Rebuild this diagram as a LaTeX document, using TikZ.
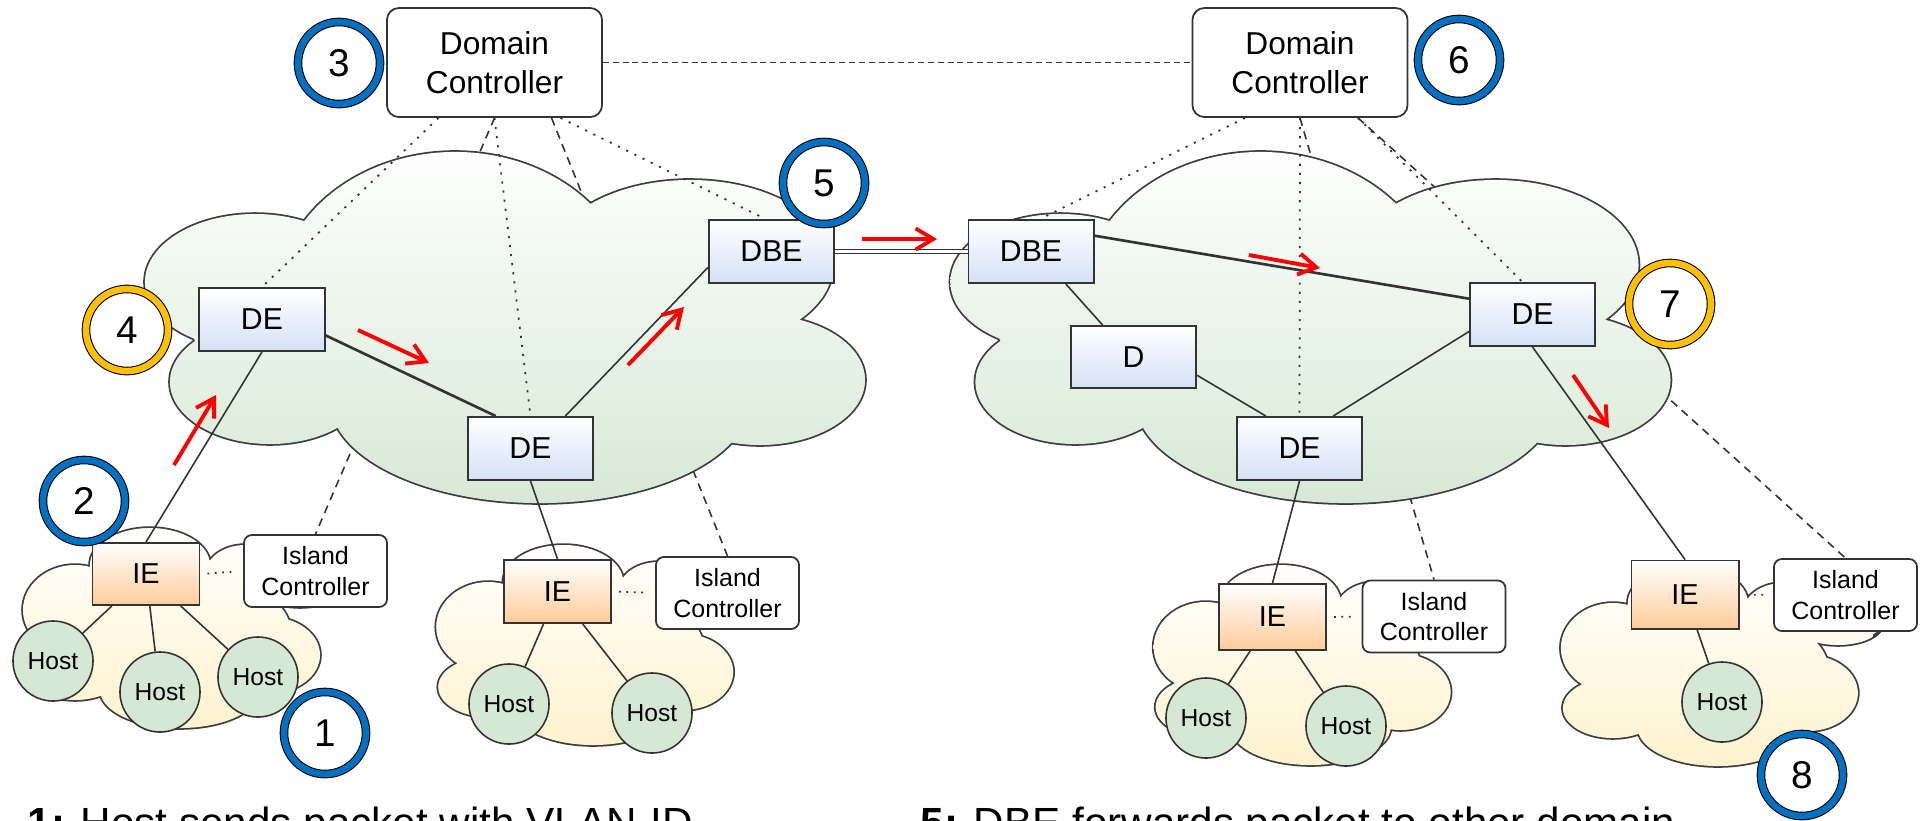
\documentclass[tikz,border=0pt]{standalone}
\usepackage{fontspec}
\setmainfont{Liberation Sans}
\usetikzlibrary{arrows.meta}

\definecolor{ringblue}{HTML}{0070C0}
\definecolor{ringgold}{HTML}{FFC000}
\definecolor{edge}{HTML}{333333}
\definecolor{cloudgreen}{HTML}{D5E8D4}
\definecolor{islandyellow}{HTML}{FFF2CC}
\definecolor{boxblue}{HTML}{D4E1F5}
\definecolor{boxorange}{HTML}{FFCC99}
\definecolor{hostgreen}{HTML}{D5E8D4}

\pgfdeclarelayer{wires}
\pgfdeclarelayer{clouds}
\pgfsetlayers{wires,clouds,main}

% lobes of a domain cloud (union of ellipses), pixel coordinates
\newcommand{\corecloud}{%
  (255,282) ellipse [x radius=1.10cm, y radius=0.68cm]
  (455,300) ellipse [x radius=1.78cm, y radius=1.48cm]
  (690,265) ellipse [x radius=1.43cm, y radius=0.85cm]
  (760,380) ellipse [x radius=1.05cm, y radius=0.65cm]
  (540,400) ellipse [x radius=2.10cm, y radius=1.03cm]
  (270,382) ellipse [x radius=1.00cm, y radius=0.62cm]
  (480,320) ellipse [x radius=2.90cm, y radius=1.10cm]}

% lobes of an island cloud
\newcommand{\islandcloud}{%
  (75,610) ellipse [x radius=0.52cm, y radius=0.45cm]
  (150,565) ellipse [x radius=0.60cm, y radius=0.37cm]
  (245,575) ellipse [x radius=0.40cm, y radius=0.30cm]
  (300,585) ellipse [x radius=0.45cm, y radius=0.22cm]
  (270,655) ellipse [x radius=0.50cm, y radius=0.38cm]
  (180,690) ellipse [x radius=0.80cm, y radius=0.38cm]
  (75,670) ellipse [x radius=0.50cm, y radius=0.30cm]
  (170,630) ellipse [x radius=1.20cm, y radius=0.60cm]}

\tikzset{
  dcbox/.style={draw=edge, line width=0.5pt, rounded corners=0.12cm, fill=white,
    minimum width=2.15cm, minimum height=1.09cm, align=center, inner sep=0pt,
    font=\fontsize{9}{11}\selectfont},
  swbox/.style={draw=edge, line width=0.55pt, top color=white, bottom color=boxblue,
    minimum width=1.25cm, minimum height=0.63cm, inner sep=0pt,
    font=\fontsize{8.6}{10}\selectfont},
  iebox/.style={draw=edge, line width=0.55pt, top color=white, bottom color=boxorange,
    minimum width=1.07cm, inner sep=0pt, font=\fontsize{8.2}{10}\selectfont},
  icbox/.style={draw=edge, line width=0.5pt, rounded corners=0.08cm, fill=white,
    minimum width=1.43cm, minimum height=0.72cm, align=center, inner sep=0pt,
    font=\fontsize{7.1}{8.6}\selectfont},
  host/.style={circle, draw=edge, line width=0.45pt, fill=hostgreen,
    minimum size=0.8cm, inner sep=0pt, font=\fontsize{7}{8}\selectfont},
  badge/.style={circle, draw=black, line width=0.3pt, double distance=0.065cm,
    fill=white, minimum size=0.82cm, inner sep=0pt, font=\fontsize{11}{12}\selectfont},
  bluebadge/.style={badge, double=ringblue},
  goldbadge/.style={badge, double=ringgold},
  link/.style={draw=edge, line width=0.45pt},
  heavylink/.style={draw=edge, line width=0.75pt},
  trunk/.style={draw=edge, line width=0.4pt, double=white, double distance=0.03cm},
  ctrldot/.style={draw=edge, line width=0.5pt, dash pattern=on 0.6pt off 2.0pt},
  ctrldash/.style={draw=edge, line width=0.45pt, dash pattern=on 2.3pt off 1.7pt},
  peerdash/.style={draw=edge, line width=0.5pt, dash pattern=on 1.7pt off 1.1pt},
  icdot/.style={draw=edge, line width=0.5pt, dash pattern=on 0.5pt off 1.6pt,
    shorten <=0.07cm, shorten >=0.07cm},
  redarrow/.style={draw=red, line width=1.1pt, -{Straight Barb[length=5pt,width=6pt]}},
  cloudrim/.style={draw=edge!95, line width=0.035cm},
  caption/.style={anchor=base west, inner sep=0pt, font=\fontsize{12}{14}\selectfont}
}

\begin{document}
\begin{tikzpicture}[x=0.01cm, y=-0.01cm]
\useasboundingbox (0,0) rectangle (1920,820);

% ---------- controllers ----------
\node[dcbox] (dc1) at (494.5,62.5) {Domain\\Controller};
\node[dcbox] (dc2) at (1300,62.5) {Domain\\Controller};

% ---------- domain switches ----------
\node[swbox] (de1)  at (262,319.5)   {DE};
\node[swbox] (dbe1) at (771.5,251.5) {DBE};
\node[swbox] (de2)  at (530.5,448.5) {DE};
\node[swbox] (dbe2) at (1031,251.5)  {DBE};
\node[swbox, minimum height=0.62cm] (d1) at (1133.5,357) {D};
\node[swbox] (de3)  at (1532.5,314.5) {DE};
\node[swbox] (de4)  at (1299.5,448.5) {DE};

% ---------- island edges and controllers ----------
\node[iebox, minimum height=0.62cm] (ie1) at (146,574)    {IE};
\node[iebox, minimum height=0.63cm] (ie2) at (557.5,591.5) {IE};
\node[iebox, minimum height=0.66cm] (ie3) at (1272.5,617)  {IE};
\node[iebox, minimum height=0.68cm] (ie4) at (1685,594.5)  {IE};

\node[icbox] (ic1) at (315.5,571)  {Island\\Controller};
\node[icbox] (ic2) at (727.5,593)  {Island\\Controller};
\node[icbox] (ic3) at (1434,616.5) {Island\\Controller};
\node[icbox] (ic4) at (1845.5,595) {Island\\Controller};

% ---------- hosts ----------
\node[host] (h1a) at (53,661)   {Host};
\node[host] (h1b) at (160,692)  {Host};
\node[host] (h1c) at (258,677)  {Host};
\node[host] (h2a) at (509,704)  {Host};
\node[host] (h2b) at (652,713)  {Host};
\node[host] (h3a) at (1206,718) {Host};
\node[host] (h3b) at (1346,726) {Host};
\node[host] (h4)  at (1722,702) {Host};

% ---------- controller-to-island control channels (behind the clouds) ----------
\begin{pgfonlayer}{wires}
  \draw[ctrldash] (dc1.south) -- (ic1.north);
  \draw[ctrldash] ([xshift=0.57cm]dc1.south) -- (ic2.north);
  \draw[ctrldash] (dc2.south) -- (ic3.north);
  \draw[ctrldash] ([xshift=0.58cm]dc2.south) -- (ic4.north);
\end{pgfonlayer}

% ---------- clouds ----------
\begin{pgfonlayer}{clouds}
  \foreach \dx in {0,8.05}{
    \begin{scope}[xshift=\dx cm]
      \draw[cloudrim] \corecloud;
      \begin{scope}
        \clip \corecloud;
        \shade[top color=white, bottom color=cloudgreen] (130,140) rectangle (880,515);
      \end{scope}
    \end{scope}
  }
  \foreach \dx/\dy in {0/0, 4.13/-0.17, 11.30/-0.37, 15.37/-0.38}{
    \begin{scope}[xshift=\dx cm, yshift=\dy cm]
      \draw[cloudrim] \islandcloud;
      \begin{scope}
        \clip \islandcloud;
        \shade[top color=white, bottom color=islandyellow] (15,520) rectangle (335,735);
      \end{scope}
    \end{scope}
  }
\end{pgfonlayer}

% ---------- controller-to-switch control channels ----------
\draw[ctrldot] ([xshift=-0.56cm]dc1.south) -- (de1.north);
\draw[ctrldot] (dc1.south) -- (de2.north);
\draw[ctrldot] ([xshift=0.66cm]dc1.south) -- ([xshift=-0.06cm]dbe1.north);
\draw[ctrldot] ([xshift=-0.55cm]dc2.south) -- ([xshift=0.09cm]dbe2.north);
\draw[ctrldot] (dc2.south) -- (de4.north);
\draw[ctrldot] ([xshift=0.58cm]dc2.south) -- ([xshift=-0.1cm]de3.north);
\draw[peerdash] (dc1.east) -- (dc2.west);

% ---------- data links ----------
\draw[link] (ie1.north) -- (de1.south);
\draw[heavylink] (de1.-14) -- (de2.137);
\draw[link] (de2.43) -- (dbe1.194);
\draw[link] (de2.south) -- (ie2.north);
\draw[trunk] (dbe1) -- (dbe2);
\draw[heavylink] (dbe2.14) -- (de3.166);
\draw[link] (dbe2.-43) -- (d1.134);
\draw[link] (d1.-16) -- (de4.136);
\draw[link] (de4.44) -- (de3.195);
\draw[link] (de4.south) -- (ie3.north);
\draw[link] (de3.south) -- (ie4.north);

\draw[link] (ie1) -- (h1a);
\draw[link] (ie1) -- (h1b);
\draw[link] (ie1) -- (h1c);
\draw[link] (ie2) -- (h2a);
\draw[link] (ie2) -- (h2b);
\draw[link] (ie3) -- (h3a);
\draw[link] (ie3) -- (h3b);
\draw[link] (ie4) -- (h4);

\draw[icdot] (ie1.east) -- (ic1.west);
\draw[icdot] (ie2.east) -- (ic2.west);
\draw[icdot] (ie3.east) -- (ic3.west);
\draw[icdot] (ie4.east) -- (ic4.west);

% ---------- packet path ----------
\coordinate (p1a) at (174,465);  \coordinate (p1b) at (216,395);
\coordinate (p2a) at (358,330);  \coordinate (p2b) at (429,363);
\coordinate (p3a) at (628,365);  \coordinate (p3b) at (684,307);
\coordinate (p4a) at (862,239);  \coordinate (p4b) at (937,239);
\coordinate (p5a) at (1249,255); \coordinate (p5b) at (1320,268);
\coordinate (p6a) at (1573,375); \coordinate (p6b) at (1609,428);
\draw[redarrow] (p1a) -- (p1b);
\draw[redarrow] (p2a) -- (p2b);
\draw[redarrow] (p3a) -- (p3b);
\draw[redarrow] (p4a) -- (p4b);
\draw[redarrow] (p5a) -- (p5b);
\draw[redarrow] (p6a) -- (p6b);

% ---------- step markers ----------
\node[bluebadge] (n1) at (325,733)  {1};
\node[bluebadge] (n2) at (84,501)   {2};
\node[bluebadge] (n3) at (339,63)   {3};
\node[goldbadge] (n4) at (127,330)  {4};
\node[bluebadge] (n5) at (824,183)  {5};
\node[bluebadge] (n6) at (1459,60)  {6};
\node[goldbadge] (n7) at (1670,304) {7};
\node[bluebadge] (n8) at (1802,775) {8};

% ---------- step descriptions ----------
\node[caption] (s1) at (27,837)  {\textbf{1:} Host sends packet with VLAN-ID};
\node[caption] (s5) at (920,837) {\textbf{5:} DBE forwards packet to other domain};
\end{tikzpicture}
\end{document}
